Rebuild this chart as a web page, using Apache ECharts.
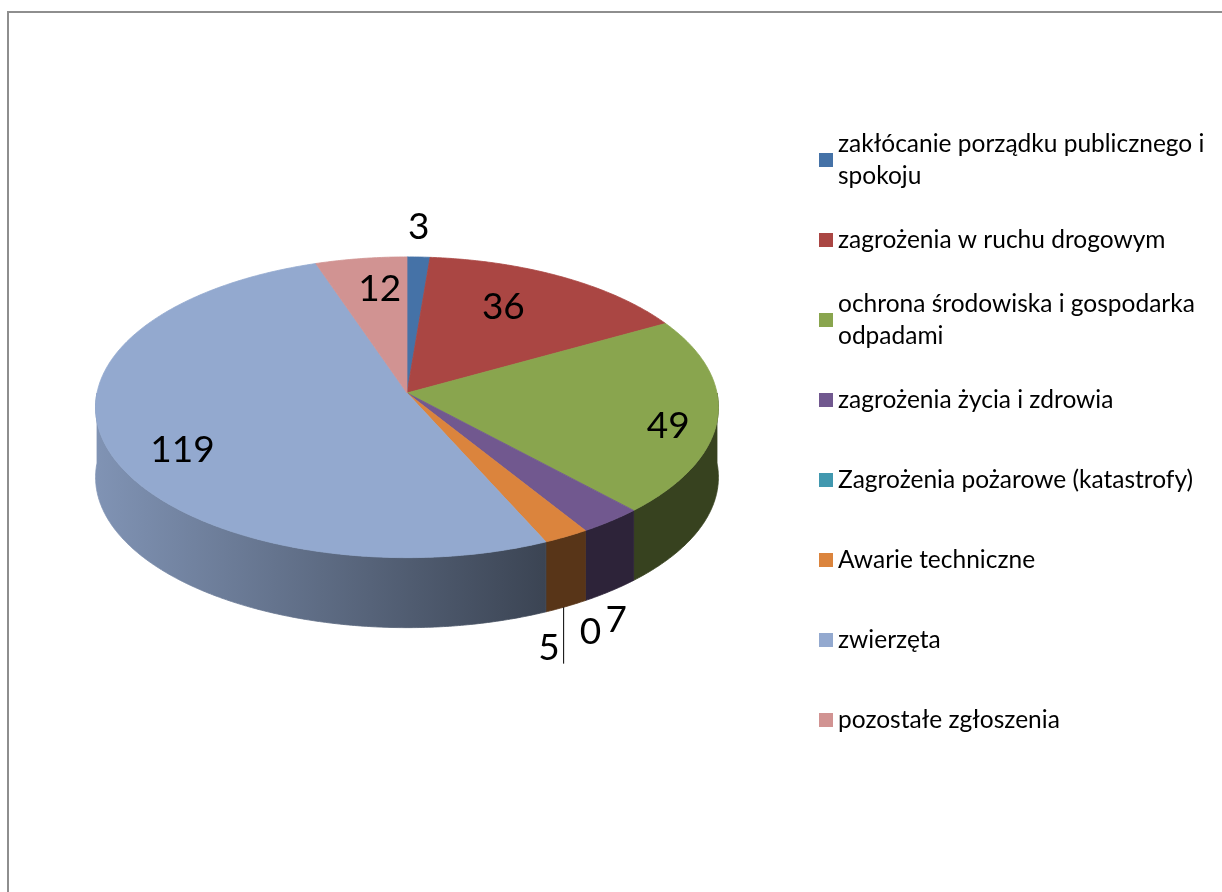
<!DOCTYPE html>
<html>
<head>
<meta charset="utf-8">
<title>Zgłoszenia</title>
<script src="https://cdn.jsdelivr.net/npm/echarts@6/dist/echarts.min.js"></script>
<style>
  html, body { margin: 0; padding: 0; overflow: hidden; background: #fff; }
  #frame { position: absolute; left: 7px; top: 11px; width: 1300px; height: 1000px; border: 2px solid #8e8e8e; }
  #chart { position: absolute; left: 0; top: 0; width: 1222px; height: 892px; }
</style>
</head>
<body>
<div id="frame"></div>
<div id="chart"></div>
<script>
  var categories = [
    'zakłócanie porządku publicznego i spokoju',
    'zagrożenia w ruchu drogowym',
    'ochrona środowiska i gospodarka odpadami',
    'zagrożenia życia i zdrowia',
    'Zagrożenia pożarowe (katastrofy)',
    'Awarie techniczne',
    'zwierzęta',
    'pozostałe zgłoszenia'
  ];
  var values = [3, 36, 49, 7, 0, 5, 119, 12];
  var colors = ['#4572A7', '#AA4643', '#89A54E', '#71588F', '#4198AF', '#DB843D', '#93A9CF', '#D19392'];

  // pie geometry: tilted disc seen with a little perspective
  var CX = 407, APEX_Y = 393, RX = 310, RY = 149, PERSP = 0.095, DEPTH = 70;
  var LABEL_FONT = 37, OUT = 34;
  var LEGEND_FONT = 24.5, LEGEND_LINE = 32, LEGEND_W = 385;

  var total = values.reduce(function (s, v) { return s + v; }, 0);
  var starts = [];
  var acc = 0;
  values.forEach(function (v) { starts.push(acc / total * Math.PI * 2); acc += v; });

  // a: clockwise angle from 12 o'clock, dz: drop for the lower rim
  function rim(a, dz) {
    var s = -Math.cos(a);
    var m = 1 / (1 - PERSP * s);
    return [CX + RX * Math.sin(a) * m, APEX_Y + RY * s * m + (dz || 0)];
  }

  function shade(hex, k) {
    var n = parseInt(hex.slice(1), 16);
    return 'rgb(' + Math.round(((n >> 16) & 255) * k) + ',' +
      Math.round(((n >> 8) & 255) * k) + ',' + Math.round((n & 255) * k) + ')';
  }

  var ctx = document.createElement('canvas').getContext('2d');

  // data labels: inside for big slices, outside for small ones
  ctx.font = LABEL_FONT + 'px Lato';
  var labels = values.map(function (v, i) {
    var mid = starts[i] + v / total * Math.PI;
    var sn = Math.sin(mid), s = -Math.cos(mid);
    var w = ctx.measureText(String(v)).width;
    if (v / total >= 0.04) {
      var f = 0.76 + 0.22 * s;
      return { x: CX + RX * f * sn + (s > 0 ? 18 : 0), y: APEX_Y + 0.8 * RY * s + 14, w: w };
    }
    var base = s > 0 ? rim(mid, DEPTH) : rim(mid, 0);
    var out = OUT + 4 * s;
    return { x: base[0] + sn * out * 0.25, y: base[1] + s * out, w: w, outside: true };
  });
  var placed = [];
  labels.forEach(function (lb) {
    if (!lb.outside) return;
    placed.forEach(function (p) {
      if (Math.abs(p.x - lb.x) < (p.w + lb.w) / 2 + 4 && Math.abs(p.y - lb.y) < LABEL_FONT * 0.8) {
        lb.x = p.x - (p.w + lb.w) / 2 - 20;
        lb.y += 8;
        var lx = lb.x + lb.w / 2 + 4;
        // find the lower rim height right above the leader line
        var lo = Math.PI / 2, hi = Math.PI;
        for (var k = 0; k < 30; k++) {
          var md = (lo + hi) / 2;
          if (rim(md)[0] > lx) lo = md; else hi = md;
        }
        lb.line = [lx, rim(lo, DEPTH)[1], lx, lb.y + 16];
      }
    });
    placed.push(lb);
  });

  function renderItem(params, api) {
    var i = params.dataIndex;
    var v = api.value(0);
    var a1 = starts[i], a2 = a1 + v / total * Math.PI * 2;
    var children = [];
    var step = Math.PI / 360;
    var a;
    if (v > 0) {
      var b1 = Math.max(a1, Math.PI / 2), b2 = Math.min(a2, Math.PI * 1.5);
      if (b2 > b1) {
        var up = [], down = [];
        for (a = b1; a < b2; a += step) { up.push(rim(a)); down.push(rim(a, DEPTH)); }
        up.push(rim(b2)); down.push(rim(b2, DEPTH));
        var grad = {
          type: 'linear', x: CX - RX, y: 0, x2: CX + 0.45 * RX, y2: 0, global: true,
          colorStops: [{ offset: 0, color: shade(colors[i], 0.87) }, { offset: 1, color: shade(colors[i], 0.4) }]
        };
        children.push({
          type: 'polygon', z2: 1,
          shape: { points: up.concat(down.reverse()) },
          style: { fill: grad, stroke: grad, lineWidth: 0.8 }
        });
      }
      var pts = [[CX, APEX_Y]];
      for (a = a1; a < a2; a += step) pts.push(rim(a));
      pts.push(rim(a2));
      children.push({
        type: 'polygon', z2: 2,
        shape: { points: pts },
        style: { fill: colors[i], stroke: colors[i], lineWidth: 0.8 }
      });
    }
    var lb = labels[i];
    if (lb.line) {
      children.push({
        type: 'line', z2: 3,
        shape: { x1: lb.line[0], y1: lb.line[1], x2: lb.line[2], y2: lb.line[3] },
        style: { stroke: '#000', lineWidth: 1 }
      });
    }
    children.push({
      type: 'text', z2: 3, x: lb.x, y: lb.y,
      style: {
        text: String(v), font: LABEL_FONT + 'px Lato', fill: '#000',
        align: 'center', verticalAlign: 'middle'
      }
    });
    return { type: 'group', children: children };
  }

  // legend: one block per entry so every marker sits on the first text line
  ctx.font = LEGEND_FONT + 'px Lato';
  function wrap(text) {
    var lines = [], cur = '';
    text.split(' ').forEach(function (w) {
      var t = cur ? cur + ' ' + w : w;
      if (ctx.measureText(t).width > LEGEND_W && cur) { lines.push(cur); cur = w; } else { cur = t; }
    });
    lines.push(cur);
    return lines;
  }
  var legends = categories.map(function (name, i) {
    var n = wrap(name).length;
    return {
      orient: 'vertical', left: 819, top: 160 + i * 80 - (2 * n - 1) * LEGEND_LINE / 2,
      padding: 0, icon: 'rect', itemWidth: 14, itemHeight: 14, selectedMode: false,
      formatter: function (nm) { return wrap(nm).join('\n'); },
      textStyle: { fontFamily: 'Lato', fontSize: LEGEND_FONT, color: '#000', lineHeight: LEGEND_LINE },
      data: [{ name: name, textStyle: { padding: [(n - 1) * LEGEND_LINE, 0, 0, 0] } }]
    };
  });

  var chart = echarts.init(document.getElementById('chart'));
  chart.setOption({
    animation: false,
    legend: legends,
    series: [
      {
        type: 'custom',
        coordinateSystem: 'none',
        silent: true,
        renderItem: renderItem,
        data: values.map(function (v) { return [v]; })
      },
      {
        // invisible pie that only feeds the legend
        type: 'pie',
        radius: [0, 0],
        center: [-50, -50],
        silent: true,
        label: { show: false },
        labelLine: { show: false },
        data: categories.map(function (c, i) {
          return { name: c, value: values[i], itemStyle: { color: colors[i] } };
        })
      }
    ]
  });
</script>
</body>
</html>
